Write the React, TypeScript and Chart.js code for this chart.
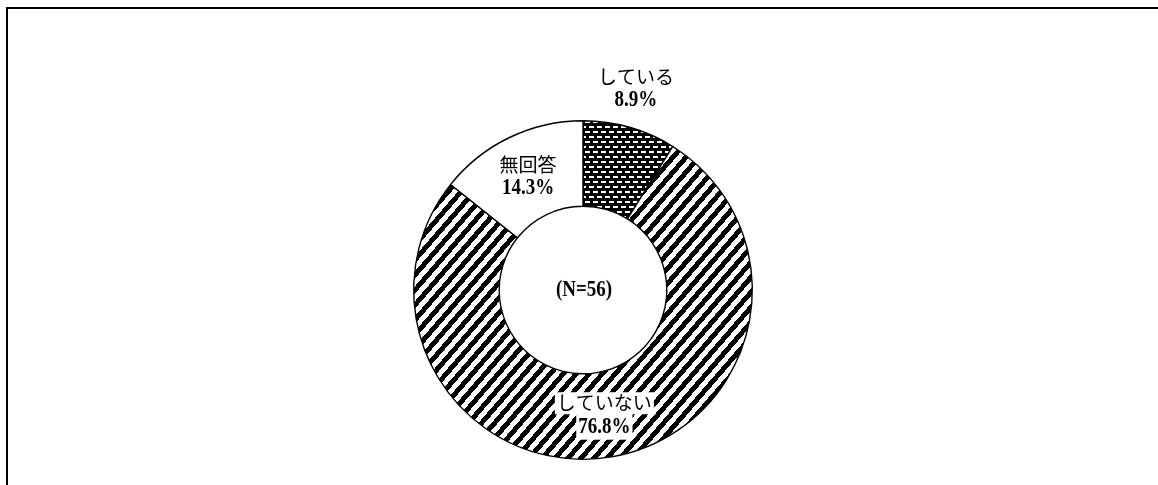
import React, { useEffect, useRef } from "react";
import { Chart, registerables } from "chart.js";

Chart.register(...registerables);

const categories = ["している", "していない", "無回答"];
const percentValues = [8.9, 76.8, 14.3];
const sampleLabel = "(N=56)";

function tileToPattern(c: HTMLCanvasElement): CanvasPattern | string {
  const p = document.createElement("canvas").getContext("2d")!.createPattern(c, "repeat");
  return p || "#000";
}

function makeBrickPattern(): CanvasPattern | string {
  const c = document.createElement("canvas");
  c.width = 8;
  c.height = 10;
  const g = c.getContext("2d");
  if (!g) return "#000";
  g.fillStyle = "#000";
  g.fillRect(0, 0, 8, 10);
  g.fillStyle = "#fff";
  g.fillRect(1, 1, 5, 2);
  g.fillRect(5, 6, 5, 2);
  g.fillRect(-3, 6, 5, 2);
  return tileToPattern(c);
}

function makeStripePattern(): CanvasPattern | string {
  const w = 13;
  const h = 15;
  const c = document.createElement("canvas");
  c.width = w;
  c.height = h;
  const g = c.getContext("2d");
  if (!g) return "#000";
  const img = g.createImageData(w, h);
  for (let y = 0; y < h; y++) {
    for (let x = 0; x < w; x++) {
      const v = ((x + 0.5) / w + (y + 0.5) / h) % 1;
      const black = v < 0.5;
      const k = (y * w + x) * 4;
      const col = black ? 0 : 255;
      img.data[k] = col;
      img.data[k + 1] = col;
      img.data[k + 2] = col;
      img.data[k + 3] = 255;
    }
  }
  g.putImageData(img, 0, 0);
  return tileToPattern(c);
}

function drawLine(ctx: CanvasRenderingContext2D, text: string, x: number, y: number, font: string, sy: number) {
  ctx.save();
  ctx.font = font;
  const w = ctx.measureText(text).width;
  const hh = 11 * sy;
  ctx.fillStyle = "#fff";
  ctx.fillRect(x - w / 2 - 2, y - hh, w + 4, hh * 2);
  ctx.translate(x, y);
  ctx.scale(1, sy);
  ctx.fillStyle = "#000";
  ctx.textAlign = "center";
  ctx.textBaseline = "middle";
  ctx.fillText(text, 0, 0);
  ctx.restore();
}

const labelPlugin = {
  id: "donutLabels",
  afterDatasetsDraw(chart: any) {
    const ctx = chart.ctx as CanvasRenderingContext2D;
    const meta = chart.getDatasetMeta(0);
    const data = chart.data.datasets[0].data as number[];
    const labels = chart.data.labels as string[];
    let cx = 0;
    let cy = 0;
    meta.data.forEach((arc: any, i: number) => {
      const p = arc.getProps(["x", "y", "startAngle", "endAngle", "innerRadius", "outerRadius"], true);
      cx = p.x;
      cy = p.y;
      const mid = (p.startAngle + p.endAngle) / 2;
      const r = i === 0 ? p.outerRadius * 1.24 : (p.innerRadius + p.outerRadius) / 2;
      let x = p.x + Math.cos(mid) * r;
      const y = p.y + Math.sin(mid) * r;
      if (i === 0) x -= 5;
      drawLine(ctx, labels[i], x, y - 11.5, '19px "Noto Sans CJK JP"', 1);
      drawLine(ctx, data[i].toFixed(1) + "%", x, y + 12, 'bold 19px "Liberation Serif"', 1.18);
    });
    ctx.save();
    ctx.translate(cx + 1, cy);
    ctx.scale(1, 1.18);
    ctx.textAlign = "center";
    ctx.textBaseline = "middle";
    ctx.fillStyle = "#000";
    ctx.font = 'bold 19px "Liberation Serif"';
    ctx.fillText(sampleLabel, 0, 0);
    ctx.restore();
  },
};

export default function App() {
  const ref = useRef<HTMLCanvasElement | null>(null);
  useEffect(() => {
    if (!ref.current) return;
    const chart = new Chart(ref.current, {
      type: "doughnut",
      data: {
        labels: categories,
        datasets: [
          {
            data: percentValues,
            backgroundColor: [makeBrickPattern(), makeStripePattern(), "#ffffff"] as any,
            borderColor: "#000",
            borderWidth: 1.4,
            hoverOffset: 0,
          },
        ],
      },
      options: {
        animation: false,
        responsive: false,
        maintainAspectRatio: false,
        cutout: "49.5%",
        layout: { padding: { left: 413, right: 405, top: 120, bottom: 25 } },
        plugins: {
          legend: { display: false },
          tooltip: { enabled: false },
          title: { display: false },
        },
      },
      plugins: [labelPlugin],
    });
    return () => chart.destroy();
  }, []);
  return (
    <div style={{ position: "fixed", left: 0, top: 0, width: 1158, height: 485, background: "#fff", overflow: "hidden" }}>
      <div
        style={{
          position: "absolute",
          left: 6,
          top: 7,
          width: 1200,
          height: 600,
          borderLeft: "2px solid #000",
          borderTop: "2px solid #000",
        }}
      />
      <canvas ref={ref} width={1158} height={485} style={{ position: "absolute", left: 0, top: 0, width: 1158, height: 485 }} />
    </div>
  );
}
